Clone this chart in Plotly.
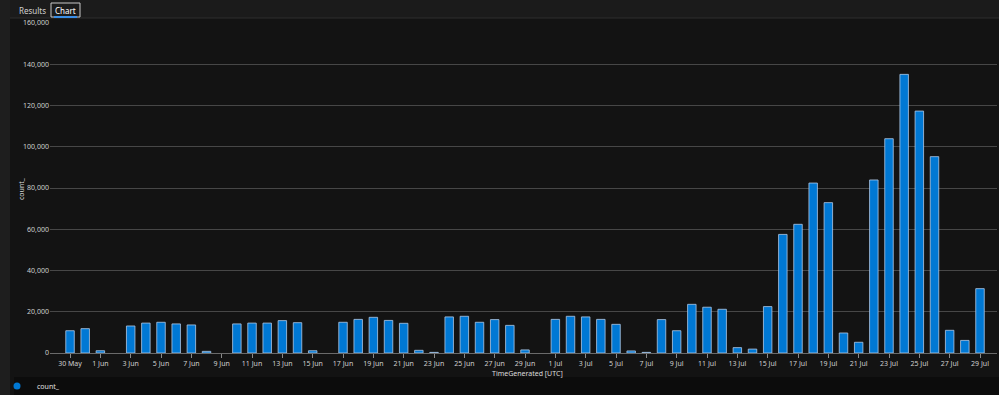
import plotly.graph_objects as go
import pandas as pd

# ---- data ----
start_date = "2023-05-30"
end_date = "2023-07-29"
dates = pd.date_range(start_date, end_date, freq="D")
counts = [
    10800, 11800, 1100, None, 13100, 14500, 14900, 14100, 13600, 800,
    None, 14100, 14500, 14500, 15700, 14700, 1100, None, 14900, 16300,
    17300, 15800, 14400, 1300, 300, 17500, 17800, 14900, 16200, 13400,
    1500, None, 16300, 17800, 17500, 16300, 13900, 1000, 300, 16200,
    10800, 23600, 22200, 21200, 2600, 1900, 22500, 57500, 62400, 82400,
    72900, 9700, 5200, 83900, 103900, 135100, 117300, 95200, 11000, 6100,
    31200,
]
tick_dates = pd.date_range(start_date, end_date, freq="2D")
tick_labels = [f"{d.day} {d.strftime('%b')}" for d in tick_dates]
y_ticks = [0, 20000, 40000, 60000, 80000, 100000, 120000, 140000, 160000]
series_name = "count_"
x_title = "TimeGenerated [UTC]"
y_title = "count_"

W, H = 999, 395
L, R, T, B = 50, 997, 23, 353


def px(xp):
    return (xp - L) / (R - L)


def py(yp):
    return (B - yp) / (B - T)


fig = go.Figure()
fig.add_trace(go.Bar(
    x=dates, y=counts, name=series_name, showlegend=False,
    width=0.56 * 86400000,
    marker=dict(color="#0078D4", line=dict(color="rgba(175,200,230,0.8)", width=1)),
))
fig.add_trace(go.Scatter(
    x=[None], y=[None], mode="markers", name=series_name,
    marker=dict(color="#0078D4", size=7, symbol="circle"),
))

shapes = [
    # top tab strip
    dict(type="rect", xref="paper", yref="paper", x0=px(0), x1=px(W), y0=py(18), y1=py(0),
         fillcolor="#1b1b1b", line_width=0, layer="below"),
    dict(type="line", xref="paper", yref="paper", x0=px(10), x1=px(W), y0=py(18), y1=py(18),
         line=dict(color="#2e2e2e", width=1)),
    # left strip
    dict(type="rect", xref="paper", yref="paper", x0=px(0), x1=px(10), y0=py(H), y1=py(0),
         fillcolor="#1e1e1e", line_width=0, layer="below"),
    # legend strip
    dict(type="rect", xref="paper", yref="paper", x0=px(14), x1=px(W), y0=py(H), y1=py(377),
         fillcolor="#0c0c0c", line_width=0, layer="below"),
    # Chart tab box
    dict(type="rect", xref="paper", yref="paper", x0=px(51), x1=px(80), y0=py(17), y1=py(3),
         fillcolor="rgba(0,0,0,0)", line=dict(color="#c8c8c8", width=1)),
    dict(type="line", xref="paper", yref="paper", x0=px(54), x1=px(77), y0=py(17), y1=py(17),
         line=dict(color="#3a8ee6", width=2)),
]

annotations = [
    dict(text="Results", xref="paper", yref="paper", x=px(32), y=py(10), showarrow=False,
         font=dict(size=8, color="#d0d0d0"), xanchor="center", yanchor="middle"),
    dict(text="Chart", xref="paper", yref="paper", x=px(65.5), y=py(10), showarrow=False,
         font=dict(size=8, color="#ffffff"), xanchor="center", yanchor="middle"),
    dict(text=x_title, xref="paper", yref="paper", x=px(527), y=py(373.5), showarrow=False,
         font=dict(size=7, color="#dcdcdc"), xanchor="center", yanchor="middle"),
    dict(text=y_title, xref="paper", yref="paper", x=px(21), y=py(189), showarrow=False,
         textangle=-90, font=dict(size=7, color="#dcdcdc"), xanchor="center", yanchor="middle"),
]

fig.update_layout(
    width=W, height=H,
    margin=dict(l=L, r=W - R, t=T, b=H - B, autoexpand=False),
    paper_bgcolor="#131313", plot_bgcolor="#131313",
    font=dict(family="Noto Sans, DejaVu Sans, sans-serif", size=7, color="#cfcfcf"),
    shapes=shapes,
    annotations=annotations,
    showlegend=True,
    legend=dict(orientation="h", xref="paper", x=px(-3), yref="container", y=1 - 386 / H,
                xanchor="left", yanchor="middle",
                font=dict(size=7, color="#e0e0e0"), bgcolor="rgba(0,0,0,0)",
                itemwidth=30),
    xaxis=dict(
        type="date",
        range=[pd.Timestamp(start_date) - pd.Timedelta(hours=31.7),
               pd.Timestamp(end_date) + pd.Timedelta(hours=26.9)],
        tickvals=tick_dates, ticktext=tick_labels,
        ticks="outside", ticklen=4, tickcolor="#8a8a8a",
        showgrid=False, showline=True, linecolor="#6a6a6a", linewidth=1,
        tickfont=dict(size=7, color="#cfcfcf"),
        zeroline=False, automargin=False,
    ),
    yaxis=dict(
        range=[0, 160000],
        tickvals=y_ticks, tickformat=",",
        showgrid=True, gridcolor="#474747", gridwidth=1,
        zeroline=False, showline=False, ticks="",
        tickfont=dict(size=7, color="#cfcfcf"),
        automargin=False,
    ),
)

fig.write_html(
    "out.html",
    config={"displayModeBar": False},
    post_script="document.body.style.margin='0';document.body.style.overflow='hidden';",
)
